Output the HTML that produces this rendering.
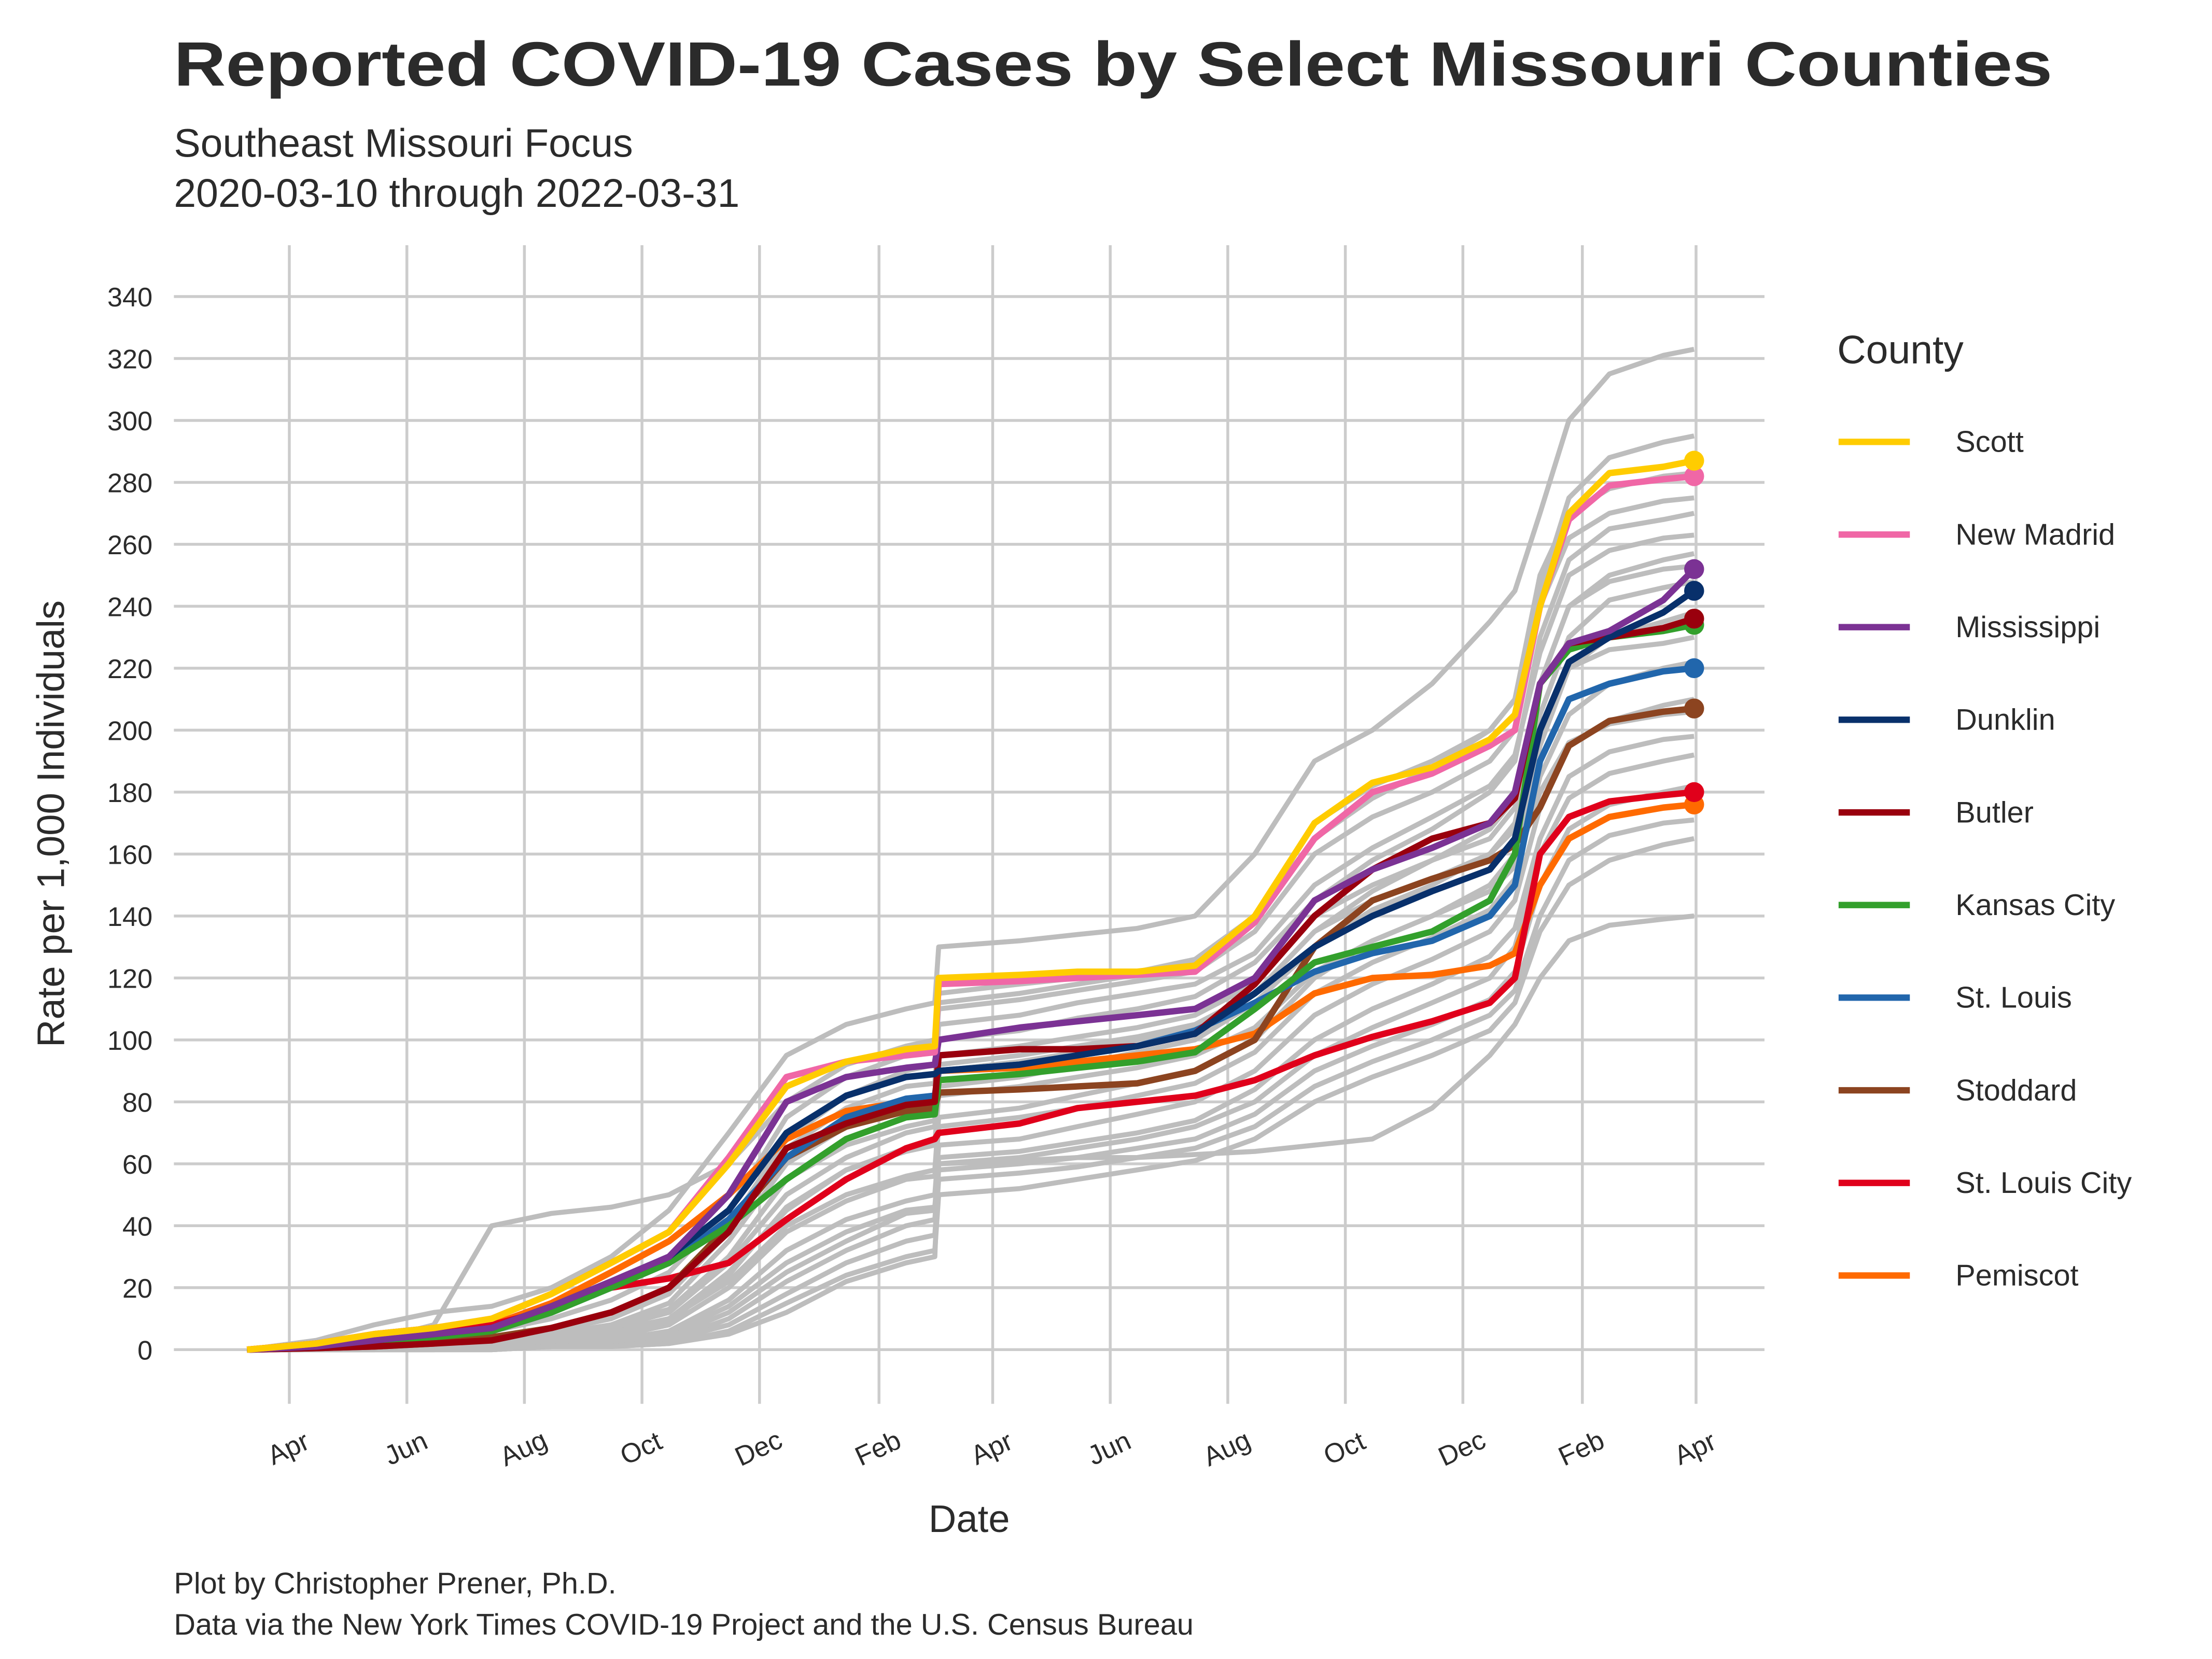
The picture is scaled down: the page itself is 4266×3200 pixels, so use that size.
<!DOCTYPE html>
<html><head><meta charset="utf-8"><style>
html,body{margin:0;padding:0;background:#fff}
svg{display:block}
text{font-family:"Liberation Sans",sans-serif;fill:#2b2b2b}
</style></head><body>
<svg id="chart" width="4266" height="3200" viewBox="0 0 1552 1164" xmlns="http://www.w3.org/2000/svg">
<rect width="1552" height="1164" fill="#fff"/>
<text x="122" y="60" font-size="44" font-weight="bold" textLength="1318" lengthAdjust="spacingAndGlyphs">Reported COVID-19 Cases by Select Missouri Counties</text>
<text x="122" y="110" font-size="28">Southeast Missouri Focus</text>
<text x="122" y="145" font-size="28">2020-03-10 through 2022-03-31</text>
<g id="grid"></g>
<g id="grey"></g>
<g id="hl"></g>
<g id="axes"></g>
<text transform="translate(45,578) rotate(-90)" text-anchor="middle" font-size="27">Rate per 1,000 Individuals</text>
<text x="680" y="1075" text-anchor="middle" font-size="27">Date</text>
<text x="1289" y="255" font-size="28">County</text>
<g id="legend"></g>
<text x="122" y="1118" font-size="21">Plot by Christopher Prener, Ph.D.</text>
<text x="122" y="1147" font-size="21">Data via the New York Times COVID-19 Project and the U.S. Census Bureau</text>
</svg>
<script>
const dates=['2020-03-10','2020-04-15','2020-05-15','2020-06-15','2020-07-15','2020-08-15','2020-09-15','2020-10-15','2020-11-15','2020-12-15','2021-01-15','2021-02-15','2021-03-02','2021-03-04','2021-04-15','2021-05-15','2021-06-15','2021-07-15','2021-08-15','2021-09-15','2021-10-15','2021-11-15','2021-12-15','2021-12-28','2022-01-10','2022-01-25','2022-02-15','2022-03-15','2022-03-31'];
const yTicks=[0,20,40,60,80,100,120,140,160,180,200,220,240,260,280,300,320,340];
const xTickDates=['2020-04-01','2020-06-01','2020-08-01','2020-10-01','2020-12-01','2021-02-01','2021-04-01','2021-06-01','2021-08-01','2021-10-01','2021-12-01','2022-02-01','2022-04-01'];
const xTickLabels=['Apr','Jun','Aug','Oct','Dec','Feb','Apr','Jun','Aug','Oct','Dec','Feb','Apr'];
const countyNames=['Scott','New Madrid','Mississippi','Dunklin','Butler','Kansas City','St. Louis','Stoddard','St. Louis City','Pemiscot'];
const countyColors=['#ffcc00','#f067a6','#7b3294','#08306b','#99000d','#33a02c','#2166ac','#8c4420','#e0001b','#ff6a00'];
const scott=[0,2,5,7,10,18,28,38,60,85,93,97,98,120,121,122,122,124,140,170,183,188,197,205,240,270,283,285,287];
const newMadrid=[0,2,5,7,10,18,28,38,62,88,93,95,96,118,119,120,121,122,138,165,180,186,195,200,240,268,279,281,282];
const mississippi=[0,1,3,5,7,14,22,30,50,80,88,91,92,100,104,106,108,110,120,145,155,162,170,180,215,228,232,242,252];
const dunklin=[0,1,3,5,7,14,22,30,45,70,82,88,89,90,92,95,98,102,115,130,140,148,155,165,200,222,230,238,245];
const butler=[0,0.5,1,2,3,7,12,20,38,65,73,79,80,95,97,97,98,102,118,140,155,165,170,178,215,228,230,233,236];
const kansasCity=[0,1,2,4,6,12,20,28,40,55,68,75,76,87,89,91,93,96,110,125,130,135,145,160,215,226,230,232,234];
const stLouis=[0,1,3,5,6,12,20,28,42,62,75,81,82,90,92,95,98,103,112,122,128,132,140,150,190,210,215,219,220];
const stoddard=[0,0.5,1,2,4,7,12,20,40,62,72,77,78,83,84,85,86,90,100,130,145,152,158,163,175,195,203,206,207];
const stLouisCity=[0,2,5,7,8,13,20,23,28,42,55,65,68,70,73,78,80,82,87,95,101,106,112,120,160,172,177,179,180];
const pemiscot=[0,2,4,6,8,15,25,35,50,68,77,80,80,90,91,93,95,97,102,115,120,121,124,128,150,165,172,175,176];
const g1=[0,3,8,12,14,20,30,45,70,95,105,110,112,130,132,134,136,140,160,190,200,215,235,245,270,300,315,321,323];
const g2=[0,1,3,8,40,44,46,50,60,80,92,98,100,115,118,120,122,126,140,170,182,190,200,210,250,270,278,282,283];
const g3=[0,1,2,4,6,10,16,25,45,75,88,95,97,112,115,118,121,125,140,165,178,188,200,210,245,275,288,293,295];
const g4=[0,0,1,2,3,5,8,15,35,60,72,80,82,100,103,107,110,114,125,145,158,168,180,190,230,255,265,268,270];
const g5=[0,0,1,2,3,6,10,18,38,65,78,85,86,105,108,112,115,118,128,150,162,172,182,192,225,250,258,262,263];
const g6=[0,0,1,1,2,4,7,12,28,50,62,70,72,90,93,96,100,104,115,135,148,158,168,178,215,240,250,255,257];
const g7=[0,0,0,1,2,3,6,10,25,45,58,65,66,85,88,92,96,100,112,130,142,150,160,170,205,230,242,246,248];
const g8=[0,0,1,1,2,4,6,10,22,40,50,56,58,75,78,82,86,90,100,120,132,140,150,160,195,220,230,235,238];
const g9=[0,0,0,1,1,2,4,8,20,38,48,55,56,72,75,78,82,86,96,115,125,133,142,152,185,205,215,220,222];
const g10=[0,0,0,1,1,2,3,6,16,32,42,48,50,66,68,72,76,80,90,108,118,126,135,145,175,195,203,208,210];
const g11=[0,0,0,0,1,2,3,5,14,28,38,45,46,62,64,67,70,74,84,100,110,118,127,136,165,185,193,197,198];
const g12=[0,0,0,0,1,1,2,4,12,25,35,44,45,60,62,65,68,72,80,95,104,112,120,130,160,178,186,190,192];
const g13=[0,0,0,0,0,1,2,3,10,22,32,40,42,58,60,62,65,68,76,90,98,105,113,122,150,168,176,180,182];
const g14=[0,0,0,0,0,1,1,3,8,18,28,35,37,55,57,59,62,65,72,85,93,100,108,116,140,158,166,170,171];
const g15=[0,0,0,0,0,1,1,2,6,15,24,30,32,50,52,55,58,61,68,80,88,95,103,112,135,150,158,163,165];
const g16=[0,0,0,0,0,1,1,2,5,12,22,28,30,60,61,62,62,63,64,66,68,78,95,105,120,132,137,139,140];
const g17=[0,0,1,2,3,5,8,13,30,55,68,75,77,95,98,101,104,108,118,140,150,158,165,175,215,240,248,252,253];
const g18=[0,0,1,2,4,7,12,20,40,68,82,90,92,110,113,116,119,122,135,160,172,180,190,200,240,262,270,274,275];
const g19=[0,0,0,1,2,4,7,12,30,55,66,72,74,92,95,98,101,105,115,135,145,152,160,168,200,220,226,228,230];
const g20=[0,0,0,1,1,3,5,9,24,46,58,64,66,82,85,88,91,95,104,122,132,140,148,156,180,196,202,205,206];
const greySeries=[g1,g2,g3,g4,g5,g6,g7,g8,g9,g10,g11,g12,g13,g14,g15,g16,g17,g18,g19,g20];
const countySeries=[scott,newMadrid,mississippi,dunklin,butler,kansasCity,stLouis,stoddard,stLouisCity,pemiscot];

const NS='http://www.w3.org/2000/svg';
const t0=Date.parse('2020-04-01'),t1=Date.parse('2022-04-01');
function xScale(d){return 203+(Date.parse(d)-t0)/(t1-t0)*987;}
function yScale(v){return 947-v*(947-208)/340;}
function mk(tag,attrs,parent){const e=document.createElementNS(NS,tag);for(const k in attrs)e.setAttribute(k,attrs[k]);parent.appendChild(e);return e;}
const grid=document.getElementById('grid'),axes=document.getElementById('axes');
yTicks.forEach(v=>{
  const l=mk('line',{x1:122,x2:1238,y1:yScale(v),y2:yScale(v),stroke:'#cccccc','stroke-width':2},grid);
  
  
  const t=mk('text',{x:107,y:yScale(v)+7,'text-anchor':'end','font-size':19},axes);
  
  
  t.textContent=v;
});
xTickDates.forEach((d,i)=>{
  const x=xScale(d);
  const l=mk('line',{x1:x,x2:x,y1:172,y2:985,stroke:'#cccccc','stroke-width':2},grid);
  
  
  const t=mk('text',{transform:`translate(${x+2},${1022}) rotate(-25)`,'text-anchor':'middle','font-size':19},axes);
  
  
  t.textContent=xTickLabels[i];
});
function pts(s){return s.map((v,i)=>xScale(dates[i]).toFixed(1)+','+yScale(v).toFixed(1)).join(' ');}
const grey=document.getElementById('grey');
greySeries.forEach(s=>{
  const p=mk('polyline',{points:pts(s),fill:'none',stroke:'#bdbdbd','stroke-width':3.5,'stroke-linejoin':'round'},grey);
  
  
});
const hl=document.getElementById('hl');
for(let i=countySeries.length-1;i>=0;i--){
  const s=countySeries[i];
  const p=mk('polyline',{points:pts(s),fill:'none',stroke:countyColors[i],'stroke-width':4.5,'stroke-linejoin':'round'},hl);
  
  
  const c=mk('circle',{cx:xScale(dates[dates.length-1]),cy:yScale(s[s.length-1]),r:7,fill:countyColors[i]},hl);
  
  
}
const lg=document.getElementById('legend');
countyNames.forEach((n,i)=>{
  const y=310+i*65;
  const l=mk('line',{x1:1290,x2:1340,y1:y,y2:y,stroke:countyColors[i],'stroke-width':4.5},lg);
  
  
  const t=mk('text',{x:1372,y:y+7,'font-size':21},lg);
  
  
  t.textContent=n;
});
</script>
</body></html>
